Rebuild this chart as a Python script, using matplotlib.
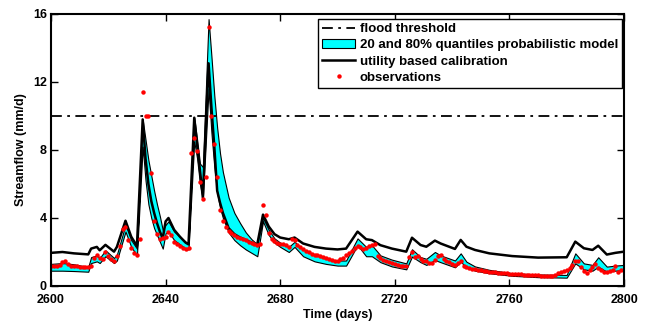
import numpy as np
import matplotlib.pyplot as plt
from matplotlib.lines import Line2D
from matplotlib.patches import Patch

plt.rcParams['font.family'] = ['Liberation Sans', 'DejaVu Sans']
plt.rcParams['font.weight'] = 'bold'

# model output, read at the vertices of the curves
model_days = [2600, 2604, 2608, 2613, 2614, 2616, 2617, 2619, 2622, 2623,
              2626, 2628, 2630, 2632, 2633, 2634, 2635, 2636, 2637, 2638,
              2639, 2640, 2641, 2643, 2645, 2647, 2648, 2650, 2651, 2652,
              2653, 2655, 2656, 2657, 2658, 2659, 2660, 2662, 2664, 2666,
              2668, 2670, 2672, 2674, 2676, 2678, 2680, 2683, 2685, 2688,
              2692, 2696, 2700, 2703, 2707, 2710, 2712, 2715, 2719, 2724,
              2726, 2729, 2731, 2734, 2736, 2741, 2743, 2745, 2748, 2753,
              2761, 2770, 2780, 2783, 2786, 2789, 2791, 2794, 2797, 2800]
q20 = [0.90, 0.90, 0.88, 0.84, 1.35, 1.45, 1.35, 1.75, 1.35, 1.50,
       3.20, 2.30, 1.80, 8.20, 6.20, 4.80, 4.00, 3.40, 3.00, 2.60,
       2.20, 3.10, 3.20, 2.70, 2.45, 2.20, 2.15, 8.50, 7.50, 6.00,
       5.10, 11.6, 9.00, 7.00, 5.50, 4.60, 4.00, 3.15, 2.70, 2.40,
       2.15, 1.95, 1.75, 3.80, 3.00, 2.55, 2.30, 2.00, 2.30, 1.75,
       1.45, 1.30, 1.20, 1.20, 2.40, 1.75, 1.75, 1.40, 1.15, 0.98,
       1.73, 1.40, 1.24, 1.53, 1.40, 1.10, 1.43, 1.10, 0.90, 0.75,
       0.60, 0.52, 0.49, 1.33, 0.98, 0.90, 1.14, 0.84, 0.90, 0.94]
q80 = [1.30, 1.35, 1.28, 1.12, 1.70, 1.80, 1.65, 2.10, 1.65, 1.85,
       3.60, 2.70, 2.20, 9.80, 8.60, 7.40, 6.50, 5.60, 4.80, 4.10,
       3.30, 3.60, 3.80, 3.20, 2.90, 2.60, 2.55, 9.90, 8.60, 7.20,
       7.00, 15.7, 13.5, 11.2, 9.30, 7.80, 6.70, 5.20, 4.30, 3.70,
       3.15, 2.75, 2.45, 4.00, 3.30, 2.80, 2.55, 2.30, 2.60, 2.15,
       1.85, 1.60, 1.50, 1.50, 2.80, 2.30, 2.40, 1.80, 1.55, 1.33,
       2.16, 1.70, 1.60, 2.00, 1.80, 1.50, 1.92, 1.43, 1.15, 0.95,
       0.75, 0.68, 0.65, 1.92, 1.33, 1.24, 1.69, 1.14, 1.20, 1.24]
utility = [1.95, 2.00, 1.92, 1.86, 2.20, 2.30, 2.10, 2.42, 2.02, 2.30,
           3.84, 2.90, 2.35, 9.80, 7.50, 6.00, 5.00, 4.30, 3.70, 3.20,
           2.80, 3.80, 4.00, 3.30, 2.90, 2.55, 2.45, 9.90, 8.30, 6.80,
           5.20, 13.1, 10.5, 8.20, 5.60, 4.90, 4.30, 3.40, 3.05, 2.85,
           2.70, 2.55, 2.45, 4.20, 3.50, 3.05, 2.85, 2.75, 2.85, 2.50,
           2.30, 2.20, 2.15, 2.20, 3.20, 2.75, 2.70, 2.40, 2.20, 2.02,
           2.84, 2.41, 2.31, 2.67, 2.50, 2.18, 2.71, 2.31, 2.12, 1.92,
           1.76, 1.67, 1.69, 2.61, 2.22, 2.12, 2.37, 1.85, 1.95, 2.02]

# daily observations 2600..2800
obs_days = np.arange(2600, 2801)
obs = [1.15, 1.15, 1.20, 1.25, 1.40, 1.45, 1.30, 1.20, 1.15, 1.15,   # 2600
       1.10, 1.10, 1.10, 1.10, 1.15, 1.65, 1.85, 1.65, 1.60, 2.00,   # 2610
       1.75, 1.60, 1.50, 1.75, 2.35, 3.35, 3.50, 2.70, 2.25, 1.95,   # 2620
       1.85, 2.75, 11.4, 10.0, 10.0, 6.65, 3.80, 3.05, 2.75, 2.80,   # 2630
       2.90, 3.20, 3.00, 2.60, 2.45, 2.35, 2.25, 2.15, 2.25, 7.80,   # 2640
       8.70, 7.95, 6.10, 5.10, 6.40, 15.25, 10.0, 8.35, 6.40, 4.50,  # 2650
       3.82, 3.50, 3.26, 3.10, 3.00, 2.90, 2.80, 2.75, 2.70, 2.60,   # 2660
       2.55, 2.50, 2.40, 2.45, 4.75, 4.20, 3.10, 2.75, 2.65, 2.55,   # 2670
       2.50, 2.45, 2.40, 2.30, 2.75, 2.70, 2.40, 2.30, 2.15, 2.05,   # 2680
       2.00, 1.90, 1.85, 1.80, 1.75, 1.70, 1.65, 1.60, 1.55, 1.50,   # 2690
       1.50, 1.60, 1.65, 1.85, 1.95, 2.05, 2.25, 2.35, 2.30, 2.20,   # 2700
       2.25, 2.35, 2.40, 2.50, 1.75, 1.65, 1.55, 1.50, 1.40, 1.35,   # 2710
       1.30, 1.25, 1.20, 1.18, 1.15, 1.70, 2.00, 1.70, 1.75, 1.60,   # 2720
       1.50, 1.45, 1.38, 1.33, 1.55, 1.75, 1.80, 1.60, 1.50, 1.43,   # 2730
       1.30, 1.24, 1.35, 1.45, 1.20, 1.10, 1.05, 1.00, 0.98, 0.95,   # 2740
       0.92, 0.90, 0.88, 0.85, 0.82, 0.80, 0.79, 0.78, 0.76, 0.75,   # 2750
       0.73, 0.72, 0.70, 0.70, 0.68, 0.67, 0.66, 0.65, 0.64, 0.63,   # 2760
       0.62, 0.61, 0.60, 0.59, 0.58, 0.56, 0.62, 0.75, 0.82, 0.90,   # 2770
       0.95, 1.05, 1.25, 1.45, 1.50, 1.10, 0.90, 0.75, 0.95, 1.10,   # 2780
       1.30, 1.05, 0.95, 0.85, 0.85, 0.90, 0.95, 1.15, 0.85, 0.95,   # 2790
       0.95]                                                          # 2800

threshold = 10

fig = plt.figure(figsize=(6.51, 3.22), dpi=100)
ax = fig.add_axes([51/651, 36/322, 573/651, 272/322])

ax.axhline(threshold, color='k', ls='-.', lw=1.3, dashes=(6, 3, 1.5, 3))
ax.fill_between(model_days, q20, q80, facecolor='#00ffff', edgecolor='k', lw=0.8)
ax.plot(model_days, utility, color='k', lw=1.8)
ax.plot(obs_days, obs, 'o', color='#ff0000', ms=3.2, mew=0)

ax.set_xlim(2600, 2800)
ax.set_ylim(0, 16)
ax.set_xticks(np.arange(2600, 2801, 40))
ax.set_yticks(np.arange(0, 17, 4))
ax.tick_params(direction='in', length=5, width=1, top=True, right=True,
               labelsize=9)
ax.tick_params(axis='x', pad=5.5)
ax.tick_params(axis='y', pad=3)
for s in ax.spines.values():
    s.set_linewidth(1.5)
ax.set_xlabel('Time (days)', fontsize=9, fontweight='bold', labelpad=2.5)
ax.set_ylabel('Streamflow (mm/d)', fontsize=9, fontweight='bold', labelpad=4)

handles = [Line2D([], [], color='k', ls='-.', lw=1.3, dashes=(6, 3, 1.5, 3)),
           Patch(facecolor='#00ffff', edgecolor='k', lw=0.8),
           Line2D([], [], color='k', lw=1.8),
           Line2D([], [], color='#ff0000', marker='o', ls='none', ms=3.2, mew=0)]
labels = ['flood threshold', '20 and 80% quantiles probabilistic model',
          'utility based calibration', 'observations']
leg = ax.legend(handles, labels, loc='upper right', fontsize=9.5,
                bbox_to_anchor=(622/651, 1 - 19/322), bbox_transform=fig.transFigure,
                borderaxespad=0, fancybox=False, framealpha=1, edgecolor='k',
                handlelength=2.5, handletextpad=0.35, labelspacing=0.3,
                borderpad=0.3)
leg.get_frame().set_linewidth(1.0)

fig.savefig('out.png', dpi=100)
